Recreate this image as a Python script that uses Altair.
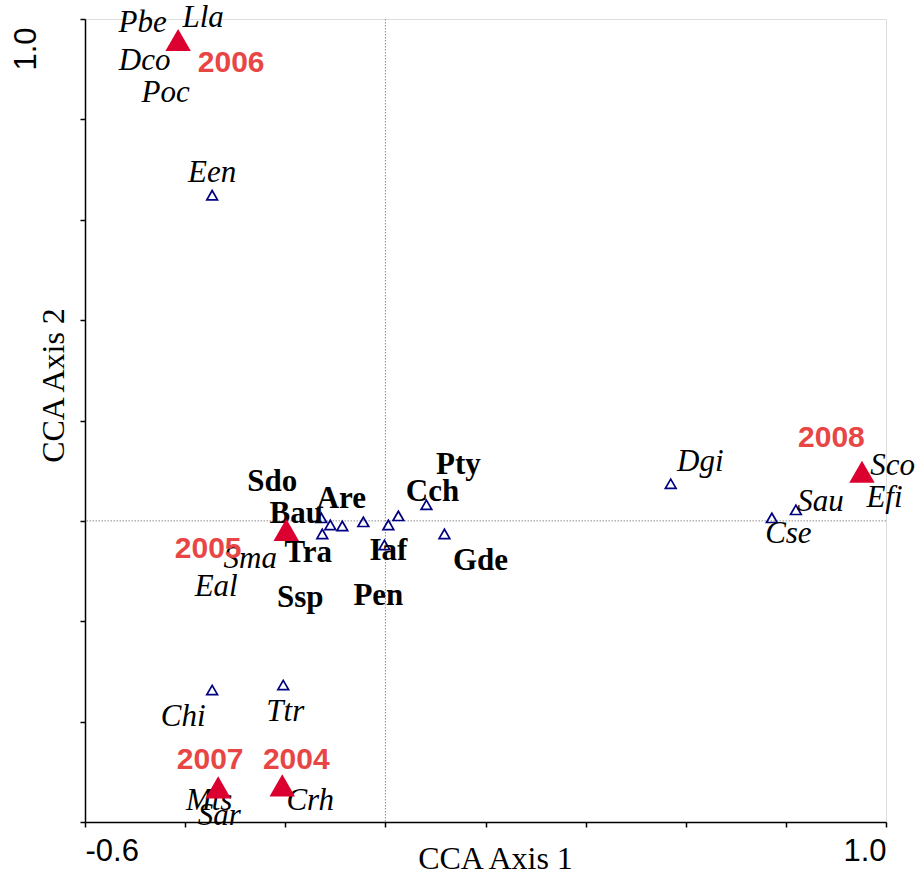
import altair as alt
import pandas as pd

# Sampling years (site scores) on the first two CCA axes
years = ["2004", "2005", "2006", "2007", "2008"]
year_x = [-0.206, -0.198, -0.414, -0.334, 0.952]
year_y = [-0.527, -0.018, 0.958, -0.531, 0.098]
year_lab_x = [-0.178, -0.354, -0.308, -0.350, 0.891]
year_lab_y = [-0.476, -0.056, 0.912, -0.476, 0.165]

# Species scores (species that sit on a year's position share its coordinates)
species = ["Een", "Chi", "Ttr", "Dgi", "Cse", "Sau",
           "Are", "Bau", "Tra", "Sdo", "Ssp", "Pen", "Iaf", "Pty", "Cch", "Gde",
           "Pbe", "Lla", "Dco", "Poc", "Sma", "Eal", "Mts", "Sar", "Crh", "Sco", "Efi"]
sp_x = [-0.346, -0.346, -0.204, 0.570, 0.772, 0.820,
        -0.128, -0.110, -0.126, -0.086, -0.044, 0.006, -0.002, 0.026, 0.082, 0.118,
        -0.414, -0.414, -0.414, -0.414, -0.198, -0.198, -0.334, -0.334, -0.206, 0.952, 0.952]
sp_y = [0.649, -0.337, -0.327, 0.074, 0.006, 0.022,
        0.006, -0.008, -0.026, -0.010, -0.002, -0.008, -0.048, 0.010, 0.032, -0.026,
        0.958, 0.958, 0.958, 0.958, -0.018, -0.018, -0.531, -0.531, -0.527, 0.098, 0.098]
sp_lab_x = [-0.346, -0.404, -0.200, 0.629, 0.805, 0.869,
            -0.088, -0.178, -0.154, -0.226, -0.170, -0.014, 0.006, 0.146, 0.094, 0.190,
            -0.485, -0.364, -0.481, -0.439, -0.270, -0.338, -0.352, -0.332, -0.150, 1.013, 0.997]
sp_lab_y = [0.693, -0.390, -0.380, 0.118, -0.026, 0.038,
            0.044, 0.014, -0.064, 0.078, -0.153, -0.149, -0.060, 0.112, 0.058, -0.080,
            0.992, 1.002, 0.916, 0.853, -0.076, -0.131, -0.558, -0.588, -0.558, 0.110, 0.046]
sp_style = ["italic"] * 6 + ["bold"] * 10 + ["italic"] * 11

# Axis ticks
ticks = [-0.6, -0.4, -0.2, 0.0, 0.2, 0.4, 0.6, 0.8, 1.0]

yr = pd.DataFrame({"year": years, "x": year_x, "y": year_y,
                   "lx": year_lab_x, "ly": year_lab_y})
sp = pd.DataFrame({"sp": species, "x": sp_x, "y": sp_y,
                   "lx": sp_lab_x, "ly": sp_lab_y, "style": sp_style})

xs = alt.Scale(domain=[-0.6, 1.0], nice=False, zero=False)
ys = alt.Scale(domain=[-0.6, 1.0], nice=False, zero=False)

x_axis = alt.Axis(values=ticks, title="CCA Axis 1", grid=False,
                  labelExpr="datum.value == -0.6 ? '-0.6' : (datum.value == 1 ? '1.0' : '')",
                  labelFont="Liberation Sans", labelFontSize=31, labelColor="black",
                  labelFlush=True, labelPadding=9, labelBaseline="top",
                  tickSize=5, tickColor="black", tickWidth=1.5,
                  domainColor="black", domainWidth=1.5,
                  titleFont="Liberation Serif", titleFontSize=32, titleFontWeight="normal",
                  titleColor="black", titleX=410, titleY=46, titleAlign="center",
                  titleBaseline="alphabetic")
y_axis = alt.Axis(values=ticks, title="CCA Axis 2", grid=False,
                  labelExpr="datum.value == 1 ? '1.0' : ''",
                  labelFont="Liberation Sans", labelFontSize=31, labelColor="black",
                  labelAngle=-90, labelAlign="right", labelBaseline="alphabetic",
                  labelPadding=45, labelOffset=8,
                  tickSize=5, tickColor="black", tickWidth=1.5,
                  domainColor="black", domainWidth=1.5,
                  titleFont="Liberation Serif", titleFontSize=32, titleFontWeight="normal",
                  titleColor="black", titleX=-22, titleY=366, titleAlign="center",
                  titleBaseline="alphabetic", titleAngle=-90)

zero_v = alt.Chart(pd.DataFrame({"x": [0.0]})).mark_rule(
    color="#888888", strokeDash=[1.5, 1.5], strokeWidth=1
).encode(x=alt.X("x:Q", scale=xs, axis=x_axis))
zero_h = alt.Chart(pd.DataFrame({"y": [0.0]})).mark_rule(
    color="#888888", strokeDash=[1.5, 1.5], strokeWidth=1
).encode(y=alt.Y("y:Q", scale=ys, axis=y_axis))

sp_pts = alt.Chart(sp).mark_point(
    shape="triangle-up", filled=False, color="#000080", size=115,
    strokeWidth=1.7, opacity=1
).encode(x=alt.X("x:Q", scale=xs), y=alt.Y("y:Q", scale=ys))

yr_pts = alt.Chart(yr).mark_point(
    shape="triangle-up", filled=True, color="#dc0030", size=650, opacity=1
).encode(x=alt.X("x:Q", scale=xs), y=alt.Y("y:Q", scale=ys))

sp_italic = alt.Chart(sp).transform_filter(alt.datum.style == "italic").mark_text(
    font="Liberation Serif", fontStyle="italic", fontSize=31, color="black",
    align="center", baseline="middle"
).encode(x=alt.X("lx:Q", scale=xs), y=alt.Y("ly:Q", scale=ys), text="sp:N")

sp_bold = alt.Chart(sp).transform_filter(alt.datum.style == "bold").mark_text(
    font="Liberation Serif", fontWeight="bold", fontSize=31, color="black",
    align="center", baseline="middle"
).encode(x=alt.X("lx:Q", scale=xs), y=alt.Y("ly:Q", scale=ys), text="sp:N")

yr_text = alt.Chart(yr).mark_text(
    font="Liberation Sans", fontWeight="bold", fontSize=30, color="#e84545",
    align="center", baseline="middle"
).encode(x=alt.X("lx:Q", scale=xs), y=alt.Y("ly:Q", scale=ys), text="year:N")

chart = alt.layer(
    zero_v, zero_h, sp_pts, sp_italic, sp_bold, yr_pts, yr_text
).properties(
    width=801, height=803,
    autosize=alt.AutoSizeParams(type="none"),
    padding={"left": 85, "top": 19, "right": 31, "bottom": 57},
).configure_view(
    stroke="black", strokeWidth=1.5
).configure(background="white")

chart.save("out.html", embed_options={"renderer": "svg", "actions": False})
